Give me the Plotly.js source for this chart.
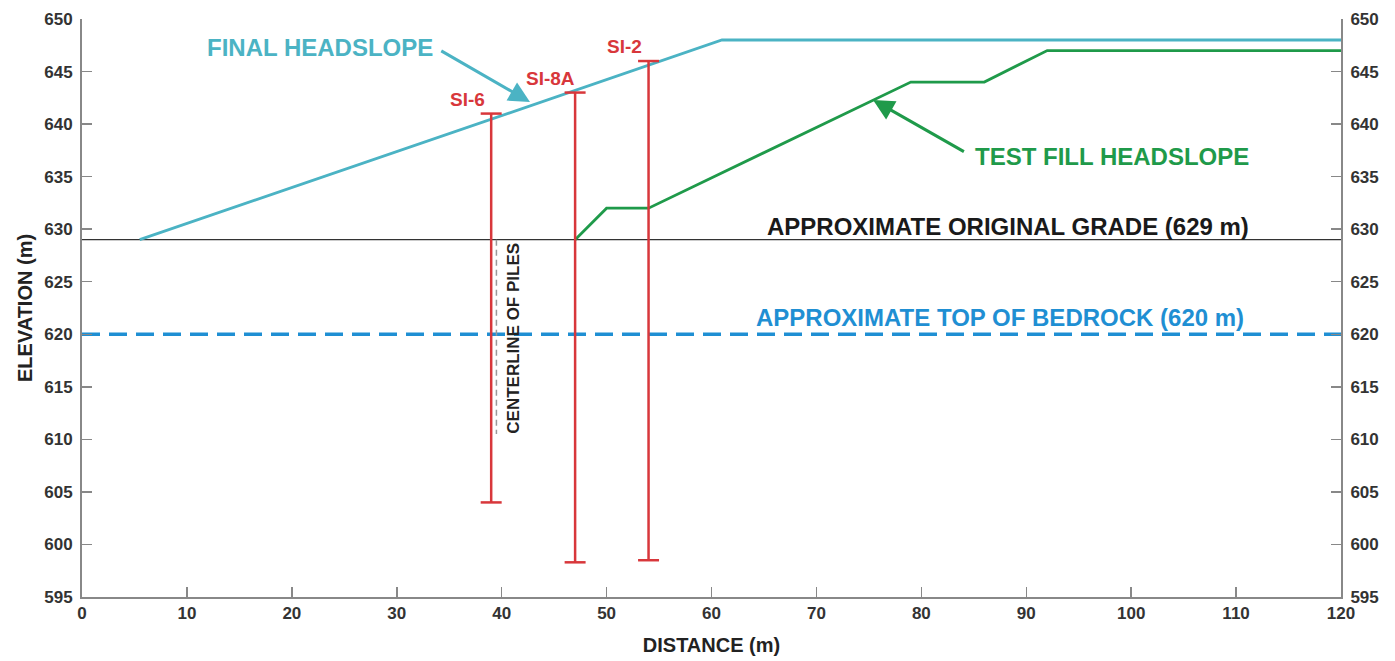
<!DOCTYPE html>
<html><head><meta charset="utf-8">
<script src="https://cdn.plot.ly/plotly-3.0.1.min.js"></script>
<style>html,body{margin:0;padding:0;background:#fff}#chart{width:1395px;height:661px}</style>
</head><body><div id="chart"></div>
<script>
// ---- data ----
const finalX = [5.5, 61, 120];
const finalY = [629, 648, 648];
const testX = [47, 50, 54, 79, 86, 92, 120];
const testY = [629, 632, 632, 644, 644, 647, 647];
const gradeX = [0, 120];
const gradeY = [629, 629];
const bedrockX = [0, 120];
const bedrockY = [620, 620];
const siNames = ["SI-6", "SI-8A", "SI-2"];
const siX = [39, 47, 54];
const siTop = [641, 643, 646];
const siBottom = [604, 598.3, 598.5];
const pileX = [39.5, 39.5];
const pileY = [629, 610.5];
const yTicks = [595, 600, 605, 610, 615, 620, 625, 630, 635, 640, 645, 650];
const xTicks = [0, 10, 20, 30, 40, 50, 60, 70, 80, 90, 100, 110, 120];

const RED = '#d8373b', TEAL = '#4bb3c4', GREEN = '#1f9a4a', BLUE = '#1f8fd3';
const CAP = 1.0;
const FAM = 'Liberation Sans, Arial, sans-serif';

// borehole segments
const bx = [], by = [];
siX.forEach((x, i) => {
  bx.push(x - CAP, x + CAP, null, x, x, null, x - CAP, x + CAP, null);
  by.push(siTop[i], siTop[i], null, siTop[i], siBottom[i], null, siBottom[i], siBottom[i], null);
});

const traces = [
  {x: gradeX, y: gradeY, mode: 'lines', line: {color: '#333', width: 1.2}, hoverinfo: 'skip'},
  {x: bedrockX, y: bedrockY, mode: 'lines', line: {color: BLUE, width: 3.5, dash: '18px,9px'}, hoverinfo: 'skip'},
  {x: pileX, y: pileY, mode: 'lines', line: {color: '#999', width: 1.5, dash: '6px,4px'}, hoverinfo: 'skip'},
  {x: finalX, y: finalY, mode: 'lines', line: {color: TEAL, width: 2.8}},
  {x: testX, y: testY, mode: 'lines', line: {color: GREEN, width: 2.8}},
  {x: bx, y: by, mode: 'lines', line: {color: RED, width: 2.5}, connectgaps: false},
  {x: [0], y: [650], yaxis: 'y2', mode: 'markers', marker: {opacity: 0}, hoverinfo: 'skip'}
];

const tickFont = {family: FAM, size: 17, color: '#333', weight: 'bold'};
const axBase = {
  showgrid: false, zeroline: false, showline: true, linecolor: '#888', linewidth: 2,
  ticks: 'inside', ticklen: 10, tickwidth: 1.5, tickcolor: '#888', tickfont: tickFont
};

const annotations = [];
siNames.forEach((n, i) => {
  annotations.push({x: siX[i] - 2.3, y: siTop[i] + 1.35, xref: 'x', yref: 'y', text: n, showarrow: false,
    font: {family: FAM, size: 19, color: RED, weight: 'bold'}});
});
const lblFont = (c) => ({family: FAM, size: 24, color: c, weight: 'bold'});
annotations.push(
  {x: 22.7, y: 647.3, xref: 'x', yref: 'y', text: 'FINAL HEADSLOPE', showarrow: false, font: lblFont(TEAL)},
  {x: 42.7, y: 642.1, ax: 34.1, ay: 647.05, xref: 'x', yref: 'y', axref: 'x', ayref: 'y', text: '',
    showarrow: true, arrowhead: 2, arrowsize: 1.4, arrowwidth: 3, arrowcolor: TEAL},
  {x: 98.2, y: 636.9, xref: 'x', yref: 'y', text: 'TEST FILL HEADSLOPE', showarrow: false, font: lblFont(GREEN)},
  {x: 75.4, y: 642.3, ax: 84.2, ay: 637.3, xref: 'x', yref: 'y', axref: 'x', ayref: 'y', text: '',
    showarrow: true, arrowhead: 2, arrowsize: 1.4, arrowwidth: 3, arrowcolor: GREEN},
  {x: 88.3, y: 630.3, xref: 'x', yref: 'y', text: 'APPROXIMATE ORIGINAL GRADE (629 m)', showarrow: false, font: lblFont('#1a1a1a')},
  {x: 87.5, y: 621.55, xref: 'x', yref: 'y', text: 'APPROXIMATE TOP OF BEDROCK (620 m)', showarrow: false, font: lblFont(BLUE)},
  {x: 41.1, y: 619.6, xref: 'x', yref: 'y', text: 'CENTERLINE OF PILES', showarrow: false, textangle: -90,
    font: {family: FAM, size: 17, color: '#222', weight: 'bold'}}
);

const layout = {
  width: 1395, height: 661,
  margin: {l: 82, r: 54, t: 19, b: 64},
  paper_bgcolor: '#fff', plot_bgcolor: '#fff',
  showlegend: false,
  xaxis: Object.assign({}, axBase, {range: [0, 120], tickvals: xTicks, ticktext: xTicks.map(String),
    title: {text: 'DISTANCE (m)', standoff: 16, font: {family: FAM, size: 20, color: '#222', weight: 'bold'}}}),
  yaxis: Object.assign({}, axBase, {range: [595, 650], tickvals: yTicks, ticktext: yTicks.map(String),
    ticklabelstandoff: 4,
    title: {text: 'ELEVATION (m)', standoff: 6, font: {family: FAM, size: 20, color: '#222', weight: 'bold'}}}),
  yaxis2: Object.assign({}, axBase, {range: [595, 650], tickvals: yTicks, ticktext: yTicks.map(String),
    ticklabelstandoff: 4, overlaying: 'y', side: 'right'}),
  annotations: annotations
};

Plotly.newPlot('chart', traces, layout, {displayModeBar: false, staticPlot: true});
</script></body></html>
